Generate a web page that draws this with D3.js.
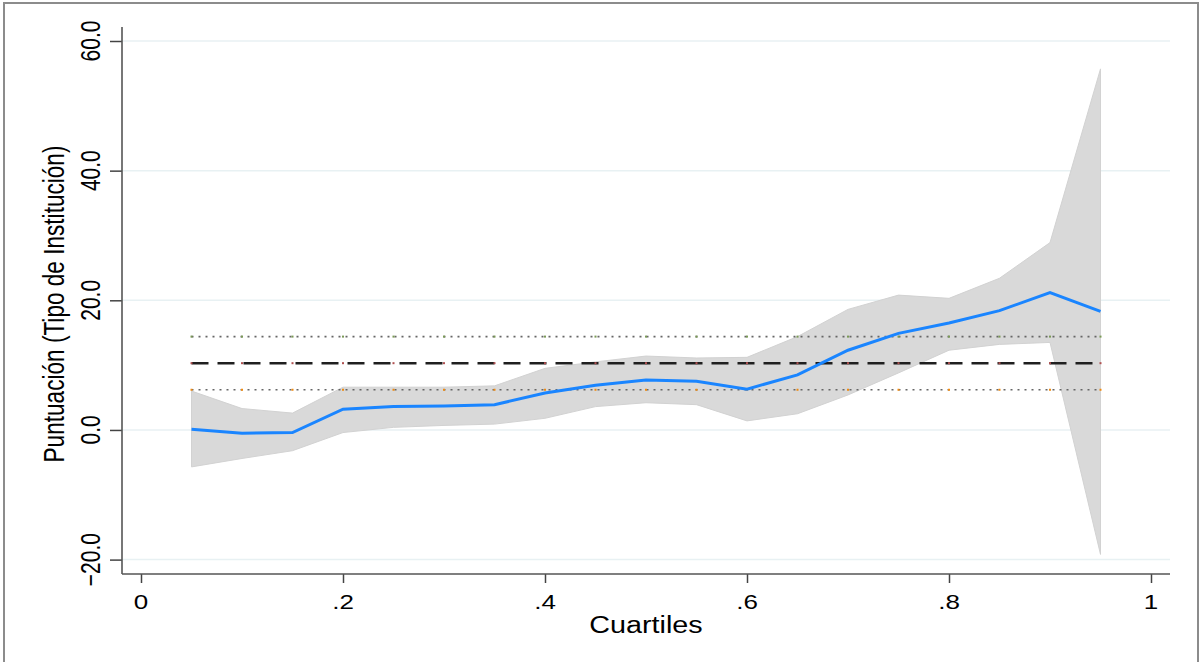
<!DOCTYPE html>
<html>
<head>
<meta charset="utf-8">
<script src="https://cdn.jsdelivr.net/npm/d3@7"></script>
<style>
  body { margin: 0; background: #fff; overflow: hidden; }
  svg text { font-family: "Liberation Sans", Arial, sans-serif; fill: #000; }
</style>
</head>
<body>
<div id="chart"></div>
<script>
// quantile estimates
var quantiles = [0.05, 0.10, 0.15, 0.20, 0.25, 0.30, 0.35, 0.40, 0.45, 0.50,
                 0.55, 0.60, 0.65, 0.70, 0.75, 0.80, 0.85, 0.90, 0.95];
var coef   = [0.1, -0.5, -0.4, 3.2, 3.6, 3.7, 3.9, 5.7, 6.9, 7.7,
              7.5, 6.3, 8.5, 12.3, 14.9, 16.5, 18.4, 21.2, 18.3];
var ciLow  = [-5.7, -4.4, -3.2, -0.4, 0.4, 0.7, 0.9, 1.8, 3.6, 4.2,
              3.9, 1.4, 2.5, 5.4, 8.8, 12.3, 13.2, 13.5, -19.2];
var ciHigh = [6.0, 3.3, 2.6, 6.6, 6.6, 6.6, 6.8, 9.5, 10.5, 11.4,
              11.1, 11.2, 14.4, 18.6, 20.8, 20.3, 23.4, 28.9, 55.7];

// OLS estimate and its interval (flat reference lines)
var olsCoef = 10.3;
var olsLow = 6.2;
var olsHigh = 14.4;

var yTicks = [-20, 0, 20, 40, 60];
var xTicks = [0, 0.2, 0.4, 0.6, 0.8, 1];
var xTickLabels = ["0", ".2", ".4", ".6", ".8", "1"];

var W = 1204, H = 662;
var stretch = 1.3; // the picture is wider than tall in its glyphs

var svg = d3.select("#chart").append("svg")
  .attr("width", W)
  .attr("height", H);

// outer frame (bottom edge falls outside the picture)
svg.append("rect")
  .attr("x", 4).attr("y", 3)
  .attr("width", 1194).attr("height", 670)
  .attr("fill", "#fff")
  .attr("stroke", "#8c8c8c")
  .attr("stroke-width", 2);

var x = d3.scaleLinear().domain([0, 1]).range([141, 1151]);
var y = d3.scaleLinear().domain([-20, 60]).range([559.6, 41]);

var plotLeft = 122, plotRight = 1170, plotTop = 27, plotBottom = 574;

// grid
svg.append("g").selectAll("line")
  .data(yTicks)
  .enter().append("line")
  .attr("x1", plotLeft).attr("x2", plotRight)
  .attr("y1", d => y(d)).attr("y2", d => y(d))
  .attr("stroke", "#e8f1f3")
  .attr("stroke-width", 1.5);

// confidence band
var area = d3.area()
  .x((d, i) => x(quantiles[i]))
  .y0((d, i) => y(ciLow[i]))
  .y1((d, i) => y(ciHigh[i]));

svg.append("path")
  .datum(quantiles)
  .attr("d", area)
  .attr("fill", "#d9d9d9")
  .attr("stroke", "#d2d2d2")
  .attr("stroke-width", 1);

// reference lines
var xs = [quantiles[0], quantiles[quantiles.length - 1]];
function refLine(v, dash, color, width) {
  svg.append("line")
    .attr("x1", x(xs[0])).attr("x2", x(xs[1]))
    .attr("y1", y(v)).attr("y2", y(v))
    .attr("stroke", color)
    .attr("stroke-width", width)
    .attr("stroke-dasharray", dash);
}
refLine(olsHigh, "2,5", "#666", 1.6);
refLine(olsCoef, "17,9", "#1f1f1f", 2.4);
refLine(olsLow, "2,5", "#666", 1.6);

// small coloured markers at each quantile on the reference lines
[[olsHigh, "#7a9a55"], [olsCoef, "#b05050"], [olsLow, "#f08a10"]].forEach(function (p) {
  svg.append("g").selectAll("rect")
    .data(quantiles)
    .enter().append("rect")
    .attr("x", d => x(d) - 1)
    .attr("y", y(p[0]) - 1)
    .attr("width", 2).attr("height", 2)
    .attr("fill", p[1]);
});

// estimate line
var line = d3.line()
  .x((d, i) => x(quantiles[i]))
  .y((d, i) => y(coef[i]));

svg.append("path")
  .datum(coef)
  .attr("d", line)
  .attr("fill", "none")
  .attr("stroke", "#1a85ff")
  .attr("stroke-width", 3);

// axes
var yAxis = d3.axisLeft(y).tickValues(yTicks).tickSize(12).tickFormat("");
var gy = svg.append("g").attr("transform", "translate(" + plotLeft + ",0)").call(yAxis);
gy.select(".domain").remove();
gy.selectAll(".tick line").attr("stroke", "#444").attr("stroke-width", 1.5);

var xAxis = d3.axisBottom(x).tickValues(xTicks).tickSize(9).tickFormat("");
var gx = svg.append("g").attr("transform", "translate(0," + plotBottom + ")").call(xAxis);
gx.select(".domain").remove();
gx.selectAll(".tick line").attr("stroke", "#444").attr("stroke-width", 1.5);

svg.append("line")
  .attr("x1", plotLeft).attr("x2", plotLeft)
  .attr("y1", plotTop).attr("y2", plotBottom)
  .attr("stroke", "#555").attr("stroke-width", 1.6);
svg.append("line")
  .attr("x1", plotLeft).attr("x2", plotRight)
  .attr("y1", plotBottom).attr("y2", plotBottom)
  .attr("stroke", "#555").attr("stroke-width", 1.6);

// y tick labels (rotated)
svg.append("g").selectAll("text")
  .data(yTicks)
  .enter().append("text")
  .attr("transform", d => "translate(100," + y(d) + ") scale(" + stretch + ",1) rotate(-90)")
  .attr("text-anchor", "middle")
  .style("font-size", "21px")
  .text(d => d3.format(".1f")(d));

// x tick labels
svg.append("g").selectAll("text")
  .data(xTicks)
  .enter().append("text")
  .attr("transform", d => "translate(" + x(d) + ",609) scale(" + stretch + ",1)")
  .attr("text-anchor", "middle")
  .style("font-size", "20px")
  .text((d, i) => xTickLabels[i]);

// axis titles
svg.append("text")
  .attr("transform", "translate(" + (plotLeft + plotRight) / 2 + ",633) scale(1.25,1)")
  .attr("text-anchor", "middle")
  .style("font-size", "23px")
  .text("Cuartiles");

svg.append("text")
  .attr("transform", "translate(64,304) scale(" + stretch + ",1) rotate(-90)")
  .attr("text-anchor", "middle")
  .style("font-size", "22.6px")
  .text("Puntuación (Tipo de Institución)");
</script>
</body>
</html>
